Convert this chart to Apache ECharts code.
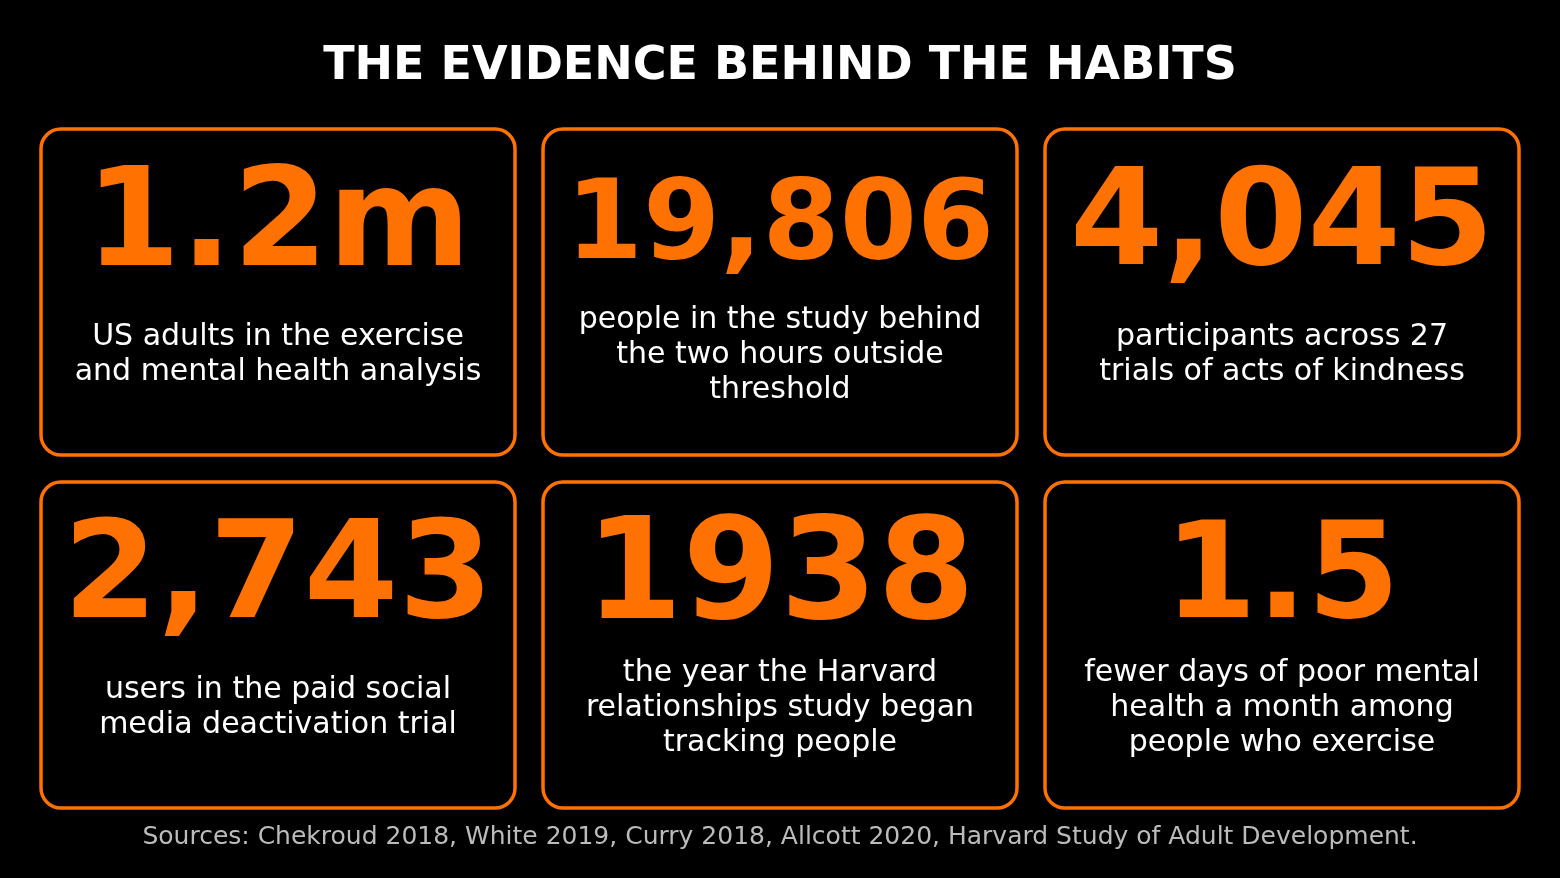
<!DOCTYPE html>
<html><head><meta charset="utf-8">
<script src="https://cdn.jsdelivr.net/npm/echarts@6/dist/echarts.min.js"></script>
<style>html,body{margin:0;padding:0;background:#000}#c{width:1560px;height:878px}</style>
</head><body><div id="c"></div>
<script>
const title = "THE EVIDENCE BEHIND THE HABITS";
const values = ["1.2m", "19,806", "4,045", "2,743", "1938", "1.5"];
const descriptions = [
  "US adults in the exercise\nand mental health analysis",
  "people in the study behind\nthe two hours outside\nthreshold",
  "participants across 27\ntrials of acts of kindness",
  "users in the paid social\nmedia deactivation trial",
  "the year the Harvard\nrelationships study began\ntracking people",
  "fewer days of poor mental\nhealth a month among\npeople who exercise"
];
const sources = "Sources: Chekroud 2018, White 2019, Curry 2018, Allcott 2020, Harvard Study of Adult Development.";

const numSizes = [137, 111, 134, 136, 140, 133];
const orange = "#ff7100";
const colX = [41, 543, 1045], rowY = [129, 482], W = 474, H = 326;
const els = [];
els.push({type:'text', left:'center', top:44, style:{text:title, fill:'#fff',
  font:'900 46px "DejaVu Sans", sans-serif'}});
values.forEach((v,i)=>{
  const x = colX[i%3], y = rowY[Math.floor(i/3)];
  els.push({type:'rect', shape:{x, y, width:W, height:H, r:20},
    style:{fill:'#000', stroke:orange, lineWidth:3.5}});
  els.push({type:'text', x:x+W/2, y:y+100, style:{text:v, fill:orange,
    font:'bold '+numSizes[i]+'px "DejaVu Sans", sans-serif', align:'center', verticalAlign:'middle'}});
  els.push({type:'text', x:x+W/2, y:y+226, style:{text:descriptions[i], fill:'#fff',
    font:'500 30px "DejaVu Sans", sans-serif', lineHeight:35, align:'center', verticalAlign:'middle'}});
});
els.push({type:'text', left:'center', top:825, style:{text:sources, fill:'#bbbbbb',
  font:'25px "DejaVu Sans", sans-serif'}});
const chart = echarts.init(document.getElementById('c'));
chart.setOption({backgroundColor:'#000', graphic:els});
</script></body></html>
